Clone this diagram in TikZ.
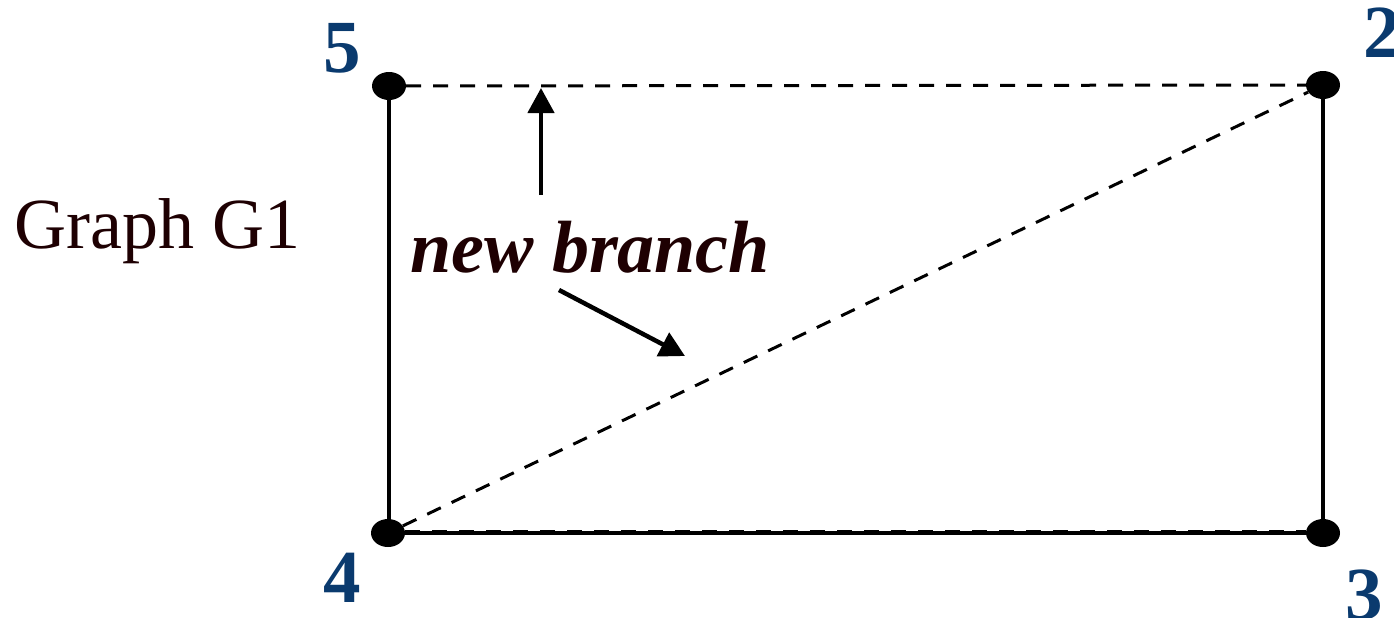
\documentclass[tikz,border=0pt]{standalone}
\usepackage{fontspec}
\setmainfont{Liberation Serif}
\usepackage{tikz}
\usetikzlibrary{arrows.meta, positioning, shapes.geometric}

\definecolor{numblue}{RGB}{10,58,110}
\definecolor{txtdark}{RGB}{30,0,2}

\begin{document}
\begin{tikzpicture}[x=1pt, y=-1pt,
	vertex/.style={ellipse, fill=black, minimum width=34pt, minimum height=28pt, inner sep=0pt},
	num/.style={text=numblue, font=\fontsize{75}{80}\selectfont\bfseries, inner sep=0pt, anchor=base west},
	edge/.style={line width=3.5pt},
	newedge/.style={line width=3pt, dash pattern=on 15pt off 12pt},
	pointer/.style={line width=4.5pt, -{Triangle[width=26pt,length=25pt]}}]
	\useasboundingbox (0,0) rectangle (1394,618);
	% corners of the graph
	\node[vertex] (v5) at (389,86) {};
	\node[vertex] (v2) at (1323,85) {};
	\node[vertex] (v4) at (388,533) {};
	\node[vertex] (v3) at (1323,533) {};
	% labels of the corners
	\node[num] (l5) at (323,73) {5};
	\node[num] (l2) at (1363,57) {2};
	\node[num] (l4) at (323,602) {4};
	\node[num] (l3) at (1345,619) {3};
	% tree branches
	\draw[edge] (v5.center |- v5.south) -- (v5.center |- v4.north);
	\draw[edge] (v4) -- (v3);
	\draw[edge] (v3) -- (v2);
	% new branches
	\draw[newedge] (v5) -- (v2);
	\draw[newedge] ([yshift=2pt]v4.east) -- ([yshift=2pt]v3.west);
	\draw[newedge] (v4) -- (v2);
	% texts
	\node[text=txtdark, font=\fontsize{72}{80}\selectfont, inner sep=0pt, anchor=base west] (title) at (14,248) {Graph G1};
	\node[text=txtdark, font=\fontsize{74}{80}\selectfont\bfseries\itshape, inner sep=0pt, anchor=base west] (nb) at (410,272) {new branch};
	\coordinate (upfrom) at (541,195);
	\coordinate (upto) at (541,88);
	\coordinate (diagfrom) at (559,290);
	\coordinate (diagto) at (685,356);
	\draw[pointer] (upfrom) -- (upto);
	\draw[pointer] (diagfrom) -- (diagto);
\end{tikzpicture}
\end{document}
